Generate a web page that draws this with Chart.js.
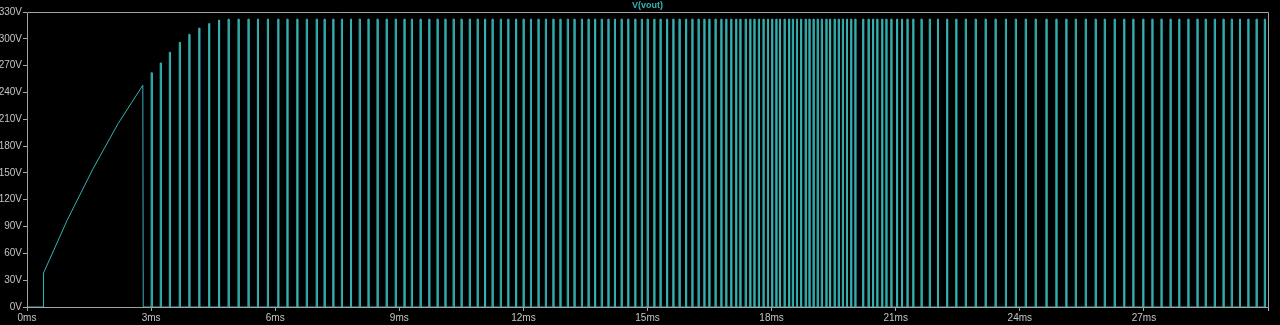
<!DOCTYPE html>
<html>
<head>
<meta charset="utf-8">
<script src="https://cdn.jsdelivr.net/npm/chart.js@4/dist/chart.umd.min.js"></script>
<style>
html,body{margin:0;padding:0;background:#000;}
#wrap{width:1280px;height:325px;position:relative;}
</style>
</head>
<body>
<div id="wrap"><canvas id="c" width="1280" height="325"></canvas></div>
<script>
// ---- data ----
const seriesName = 'V(vout)';
const xTickUnit = 'ms';
const yTickUnit = 'V';
// start-up ramp (ms, V)
const rampTimes  = [0, 0.39, 0.40, 0.97, 1.60, 2.20, 2.80, 2.81];
const rampValues = [0, 0,    38,   97,   155,  205,  248,  0];
// switching pulses: time of each pulse (ms) and its peak (V)
const pulseTimes = [
  3.00, 3.22, 3.44, 3.68, 3.91, 4.15, 4.39, 4.63, 4.86,
  5.10, 5.34, 5.57, 5.81, 6.06, 6.28, 6.52, 6.75, 6.99, 7.18,
  7.39, 7.60, 7.82, 8.03, 8.24, 8.46, 8.68, 8.90, 9.11, 9.29,
  9.50, 9.71, 9.91, 10.10, 10.30, 10.49, 10.69, 10.88, 11.06, 11.24,
  11.44, 11.62, 11.81, 11.99, 12.17, 12.35, 12.53, 12.71, 12.88, 13.06,
  13.22, 13.40, 13.56, 13.72, 13.88, 14.04, 14.20, 14.36, 14.52, 14.69,
  14.85, 14.99, 15.15, 15.30, 15.46, 15.61, 15.76, 15.92, 16.07, 16.22,
  16.36, 16.48, 16.63, 16.77, 16.89, 17.01, 17.13, 17.23, 17.36, 17.47,
  17.57, 17.68, 17.79, 17.90, 18.00, 18.10, 18.19, 18.30, 18.41, 18.50,
  18.60, 18.70, 18.81, 18.90, 19.00, 19.10, 19.20, 19.31, 19.40, 19.51,
  19.61, 19.71, 19.81, 19.91, 20.01, 20.20, 20.33, 20.44, 20.54, 20.66,
  20.76, 20.88, 21.02, 21.14, 21.27, 21.41, 21.61, 21.81, 22.01, 22.23,
  22.45, 22.68, 22.92, 23.16, 23.40, 23.65, 23.89, 24.13, 24.37, 24.63,
  24.87, 25.11, 25.34, 25.58, 25.82, 26.04, 26.28, 26.51, 26.73, 26.97,
  27.19, 27.41, 27.63, 27.84, 28.06, 28.28, 28.48, 28.70, 28.91, 29.11,
  29.31, 29.51, 29.71, 29.91
];
const pulsePeaks = [
  262, 273, 285, 296, 305, 312, 317, 321, 322,
  322, 322, 322, 322, 322, 322, 322, 322, 322, 322,
  322, 322, 322, 322, 322, 322, 322, 322, 322, 322,
  322, 322, 322, 322, 322, 322, 322, 322, 322, 322,
  322, 322, 322, 322, 322, 322, 322, 322, 322, 322,
  322, 322, 322, 322, 322, 322, 322, 322, 322, 322,
  322, 322, 322, 322, 322, 322, 322, 322, 322, 322,
  322, 322, 322, 322, 322, 322, 322, 322, 322, 322,
  322, 322, 322, 322, 322, 322, 322, 322, 322, 322,
  322, 322, 322, 322, 322, 322, 322, 322, 322, 322,
  322, 322, 322, 322, 322, 322, 322, 322, 322, 322,
  322, 322, 322, 322, 322, 322, 322, 322, 322, 322,
  322, 322, 322, 322, 322, 322, 322, 322, 322, 322,
  322, 322, 322, 322, 322, 322, 322, 322, 322, 322,
  322, 322, 322, 322, 322, 322, 322, 322, 322, 322,
  322, 322, 322, 322
];
const pulseWidth = 0.025; // ms, on-time of each pulse
const xMin = 0, xMax = 30, xStep = 3;
const yMin = 0, yMax = 330, yStep = 30;

// ---- build the trace ----
const pts = [];
rampTimes.forEach((t, i) => pts.push({x: t, y: rampValues[i]}));
pulseTimes.forEach((t, i) => {
  const p = pulsePeaks[i];
  pts.push({x: t, y: 0});
  pts.push({x: t, y: p});
  pts.push({x: t + pulseWidth, y: p});
  pts.push({x: t + pulseWidth, y: 0});
});

const TRACE = '#35b2b2';
const FRAME = '#a4a4a4';
const LABEL = '#c4c4c4';
const FONT = 'Liberation Sans, Arial, sans-serif';

const framePlugin = {
  id: 'frame',
  afterDraw(chart) {
    const {ctx, chartArea: a} = chart;
    ctx.save();
    ctx.strokeStyle = FRAME;
    ctx.lineWidth = 1;
    ctx.beginPath();
    ctx.moveTo(a.left + 0.5, a.bottom + 0.5);
    ctx.lineTo(a.left + 0.5, a.top + 0.5);
    ctx.lineTo(a.right + 0.5, a.top + 0.5);
    ctx.lineTo(a.right + 0.5, a.bottom + 0.5);
    ctx.lineTo(a.left + 0.5, a.bottom + 0.5);
    ctx.stroke();
    // trace name, centred over the plot area
    ctx.fillStyle = TRACE;
    ctx.font = 'bold 9px ' + FONT;
    ctx.textAlign = 'center';
    ctx.textBaseline = 'middle';
    ctx.fillText(chart.data.datasets[0].label, (a.left + a.right) / 2, a.top / 2);
    ctx.restore();
  }
};

new Chart(document.getElementById('c'), {
  type: 'line',
  data: {
    datasets: [{
      label: seriesName,
      data: pts,
      borderColor: TRACE,
      borderWidth: 1,
      pointRadius: 0,
      tension: 0,
      fill: false
    }]
  },
  options: {
    responsive: false,
    animation: false,
    parsing: false,
    normalized: true,
    layout: {padding: {left: 0, right: 12, top: 12, bottom: 0}},
    plugins: {
      legend: {display: false},
      tooltip: {enabled: false},
      title: {display: false}
    },
    scales: {
      x: {
        type: 'linear',
        min: xMin, max: xMax,
        afterFit(s) { s.height = 18; },
        border: {display: false},
        grid: {drawOnChartArea: false, drawTicks: true, tickLength: 4, color: FRAME},
        ticks: {
          stepSize: xStep,
          padding: 1,
          maxRotation: 0,
          color: LABEL,
          font: {family: FONT, size: 10},
          callback: v => (v >= xMax ? '' : v + xTickUnit)
        }
      },
      y: {
        type: 'linear',
        min: yMin, max: yMax,
        afterFit(s) { s.width = 27; },
        border: {display: false},
        grid: {drawOnChartArea: false, drawTicks: true, tickLength: 4, color: FRAME},
        ticks: {
          stepSize: yStep,
          padding: 1,
          color: LABEL,
          font: {family: FONT, size: 10},
          callback: v => v + yTickUnit
        }
      }
    }
  },
  plugins: [framePlugin]
});
</script>
</body>
</html>
